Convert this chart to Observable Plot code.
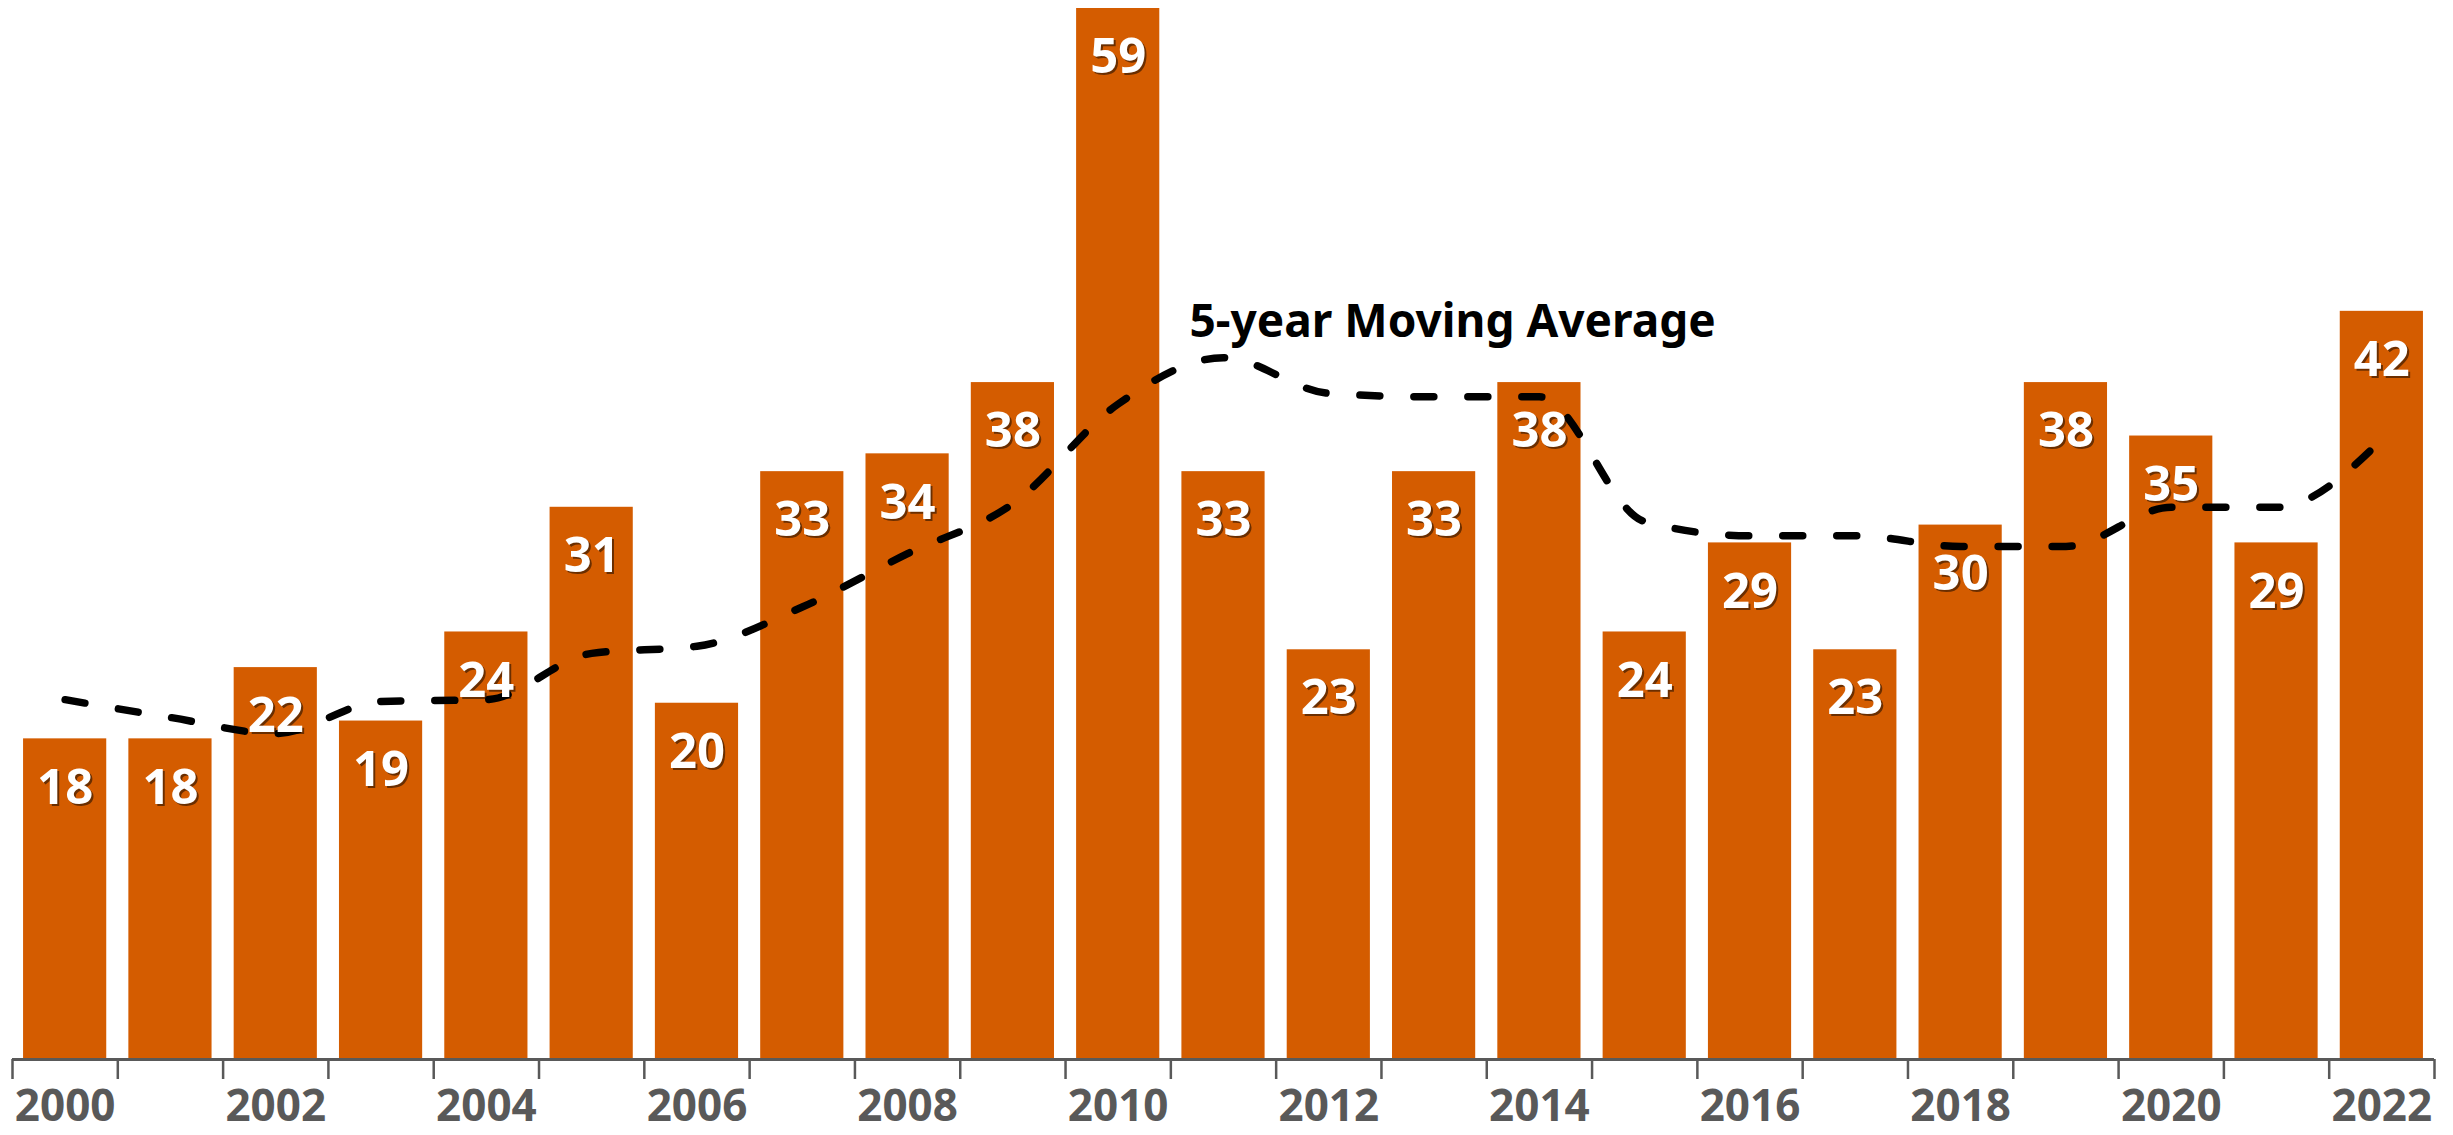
<!DOCTYPE html>
<html><head><meta charset="utf-8">
<script src="https://cdn.jsdelivr.net/npm/d3@7"></script>
<script src="https://cdn.jsdelivr.net/npm/@observablehq/plot@0.6"></script>
<style>body{margin:0;background:#fff} svg{display:block}</style>
</head><body><div id="chart"></div>
<script>
const years = [2000,2001,2002,2003,2004,2005,2006,2007,2008,2009,2010,2011,2012,2013,2014,2015,2016,2017,2018,2019,2020,2021,2022];
const counts = [18,18,22,19,24,31,20,33,34,38,59,33,23,33,38,24,29,23,30,38,35,29,42];
const movingAvg = [20.2,19.2,18.3,20.1,20.2,22.8,23.2,25.4,28.4,31.2,36.8,39.4,37.4,37.2,37.2,30.2,29.4,29.4,28.8,28.8,31.0,31.0,34.8];
const tickLabels = [2000,2002,2004,2006,2008,2010,2012,2014,2016,2018,2020,2022];
const lineLabel = "5-year Moving Average";
const labelYear = 2011;

const data = years.map((year, i) => ({year, count: counts[i], avg: movingAvg[i]}));
const barHalf = 0.395;
const edges = [...years.map(y => y - 0.5), years[years.length - 1] + 0.5];
const font = "'Noto Sans', sans-serif";

const chart = Plot.plot({
  width: 2453, height: 1135,
  marginLeft: 12, marginRight: 19, marginTop: 8, marginBottom: 76,
  x: {type: "linear", domain: [years[0] - 0.5, years[years.length - 1] + 0.5], axis: null, label: null},
  y: {domain: [0, 59], axis: null, label: null},
  style: {fontFamily: font, background: "#fff"},
  marks: [
    Plot.rectY(data, {x1: d => d.year - barHalf, x2: d => d.year + barHalf, y: "count", fill: "#D45C00"}),
    Plot.line(data, {x: "year", y: "avg", stroke: "#000", strokeWidth: 7.5, strokeDasharray: "20,34", strokeLinecap: "round", curve: "monotone-x"}),
    Plot.text(data, {x: "year", y: "count", text: d => String(d.count), dx: 2, dy: 51, fill: "#000", fillOpacity: 0.5, fontSize: 49, fontWeight: 700}),
    Plot.text(data, {x: "year", y: "count", text: d => String(d.count), dy: 49, fill: "#fff", fontSize: 49, fontWeight: 700}),
    Plot.text(data.filter(d => d.year === labelYear), {x: "year", y: "avg", text: () => lineLabel, textAnchor: "start", dx: -34, dy: -35, fontSize: 46, fontWeight: 700, fill: "#000"}),
    Plot.ruleY([0], {stroke: "#595959", strokeWidth: 3}),
    Plot.axisX({ticks: edges, tickSize: 20, tickFormat: () => "", label: null, stroke: "#595959", strokeWidth: 2.5}),
    Plot.axisX({ticks: tickLabels, tickSize: 0, tickPadding: 30, tickFormat: d => String(d), label: null, fontSize: 44, fontWeight: 700, fill: "#595959"})
  ]
});
document.getElementById("chart").appendChild(chart);
</script>
</body></html>
